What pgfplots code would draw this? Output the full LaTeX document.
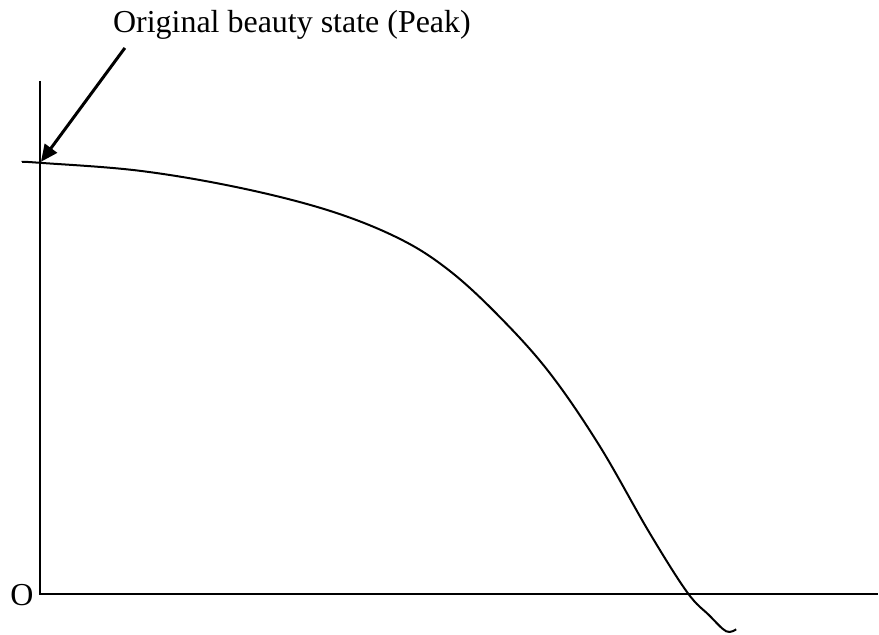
\documentclass[border=0pt]{standalone}
\usepackage{fontspec}
\setmainfont{Liberation Serif}
\usepackage{pgfplots}
\pgfplotsset{compat=1.18}
\usetikzlibrary{arrows.meta}
\begin{document}
\begin{tikzpicture}
\begin{axis}[
  width=879pt, height=635pt, scale only axis,
  xmin=0, xmax=879, ymin=0, ymax=635,
  hide axis, clip=false,
]
\addplot[draw=none] coordinates {(0,0) (879,635)};
% axes
\addplot[black, line width=2pt] coordinates {(40,554) (40,40) (879,40)};
% curve
\addplot[black, line width=2pt, smooth, tension=0.6] coordinates {
(22,473) (40,472) (140,464) (240,447) (330,424) (400,396) (450,364)
(500,318) (550,262) (600,189) (650,102) (688,42) (710,19) (727,3) (737,5)};
% annotation
\draw[line width=3pt, -{Triangle[length=17pt, width=15pt]}] (axis cs:125,587) -- (axis cs:41,473);
\node[anchor=base west, inner sep=0pt, font=\fontsize{32}{38}\selectfont] at (axis cs:113,602) {Original beauty state (Peak)};
\node[anchor=base, inner sep=0pt, font=\fontsize{32}{38}\selectfont] at (axis cs:22,29) {O};
\end{axis}
\end{tikzpicture}
\end{document}
